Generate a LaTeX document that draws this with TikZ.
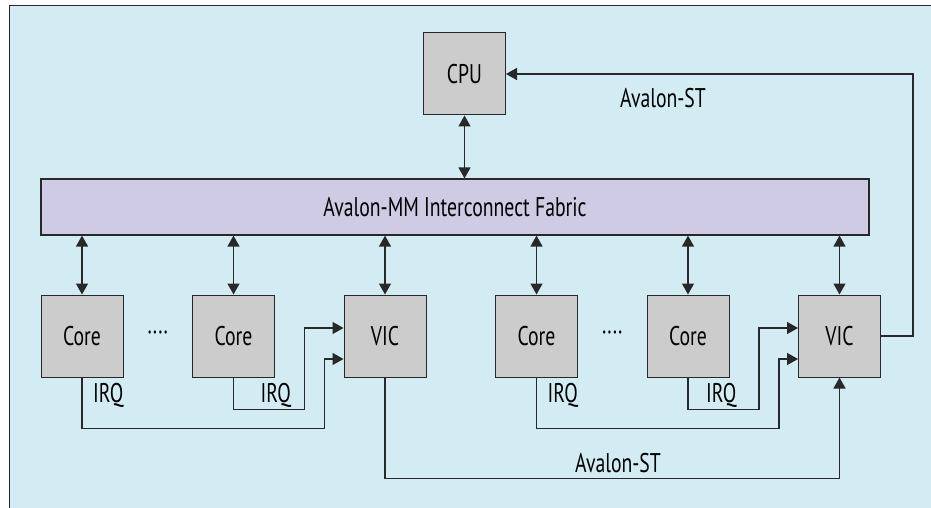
\documentclass[tikz,border=0pt]{standalone}
\usepackage{fontspec}
\setmainfont{PT Sans}[FakeStretch=0.73]
\usetikzlibrary{arrows.meta,positioning}
\definecolor{bgblue}{RGB}{211,235,243}
\definecolor{boxgray}{RGB}{204,204,204}
\definecolor{fabricpurple}{RGB}{207,203,229}
\definecolor{linegray}{RGB}{40,40,40}

\begin{document}
\begin{tikzpicture}[
  x=1pt, y=-1pt,
  node distance=68.5pt,
  font=\fontsize{27}{30}\selectfont, >={Triangle[length=11pt,width=12pt]},
  block/.style={draw=linegray, fill=boxgray, line width=1pt,
                minimum width=82pt, minimum height=82pt, inner sep=0pt},
  lbl/.style={inner sep=0pt},
  link/.style={draw=linegray, line width=1.4pt}]
\useasboundingbox (0,0) rectangle (931,508);
\fill[bgblue] (9,5) rectangle (931,508);
\draw[line width=1.6pt, linegray] (9.5,508) -- (9.5,5.5) -- (931,5.5);

\node[block] (cpu) at (464.5,74) {CPU};
\node[draw=linegray, fill=fabricpurple, line width=1.2pt, minimum width=828pt,
      minimum height=56pt, inner sep=0pt] (fabric) at (455,207)
      {Avalon-MM Interconnect Fabric};
\node[block] (core1) at (82,336) {Core};
\node[block, right=of core1] (core2) {Core};
\node[block, right=of core2] (vic1) {VIC};
\node[block, right=of vic1] (core3) {Core};
\node[block, right=of core3] (core4) {Core};
\node[block, right=of core4] (vic2) {VIC};
\path (core1) -- node[lbl] (dots1) {····} (core2);
\path (core3) -- node[lbl] (dots2) {····} (core4);

% fabric links
\draw[link, <->] (cpu.south) -- (cpu.south |- fabric.north);
\foreach \blk in {core1,core2,vic1,core3,core4,vic2}
  \draw[link, <->] (\blk.north |- fabric.south) -- (\blk.north);

% interrupt lines
\draw[link, ->] (core1.south) -- ++(0,51)
  -| ([xshift=-19pt,yshift=-23pt]vic1.west) -- ([yshift=-23pt]vic1.west);
\draw[link, ->] (core2.south) -- ++(0,32)
  -| ([xshift=-39pt,yshift=8pt]vic1.west) -- ([yshift=8pt]vic1.west);
\draw[link, ->] (core3.south) -- ++(0,51)
  -| ([xshift=-19pt,yshift=-23pt]vic2.west) -- ([yshift=-23pt]vic2.west);
\draw[link, ->] (core4.south) -- ++(0,32)
  -| ([xshift=-39pt,yshift=8pt]vic2.west) -- ([yshift=8pt]vic2.west);
\node[lbl, anchor=west] (irq1) at ([xshift=11pt,yshift=-18pt]core1.south) {IRQ};
\node[lbl, anchor=west] (irq2) at ([xshift=27pt,yshift=-18pt]core2.south) {IRQ};
\node[lbl, anchor=west] (irq3) at ([xshift=11pt,yshift=-18pt]core3.south) {IRQ};
\node[lbl, anchor=west] (irq4) at ([xshift=18pt,yshift=-18pt]core4.south) {IRQ};

% streaming links
\draw[link, ->] (vic1.south) -- ++(0,101) -| (vic2.south);
\draw[link, ->] (vic2.east) -- ++(32,0) |- (cpu.east);
\node[lbl] (st1) at (618,463) {Avalon-ST};
\node[lbl] (st2) at (663,98) {Avalon-ST};
\end{tikzpicture}
\end{document}
